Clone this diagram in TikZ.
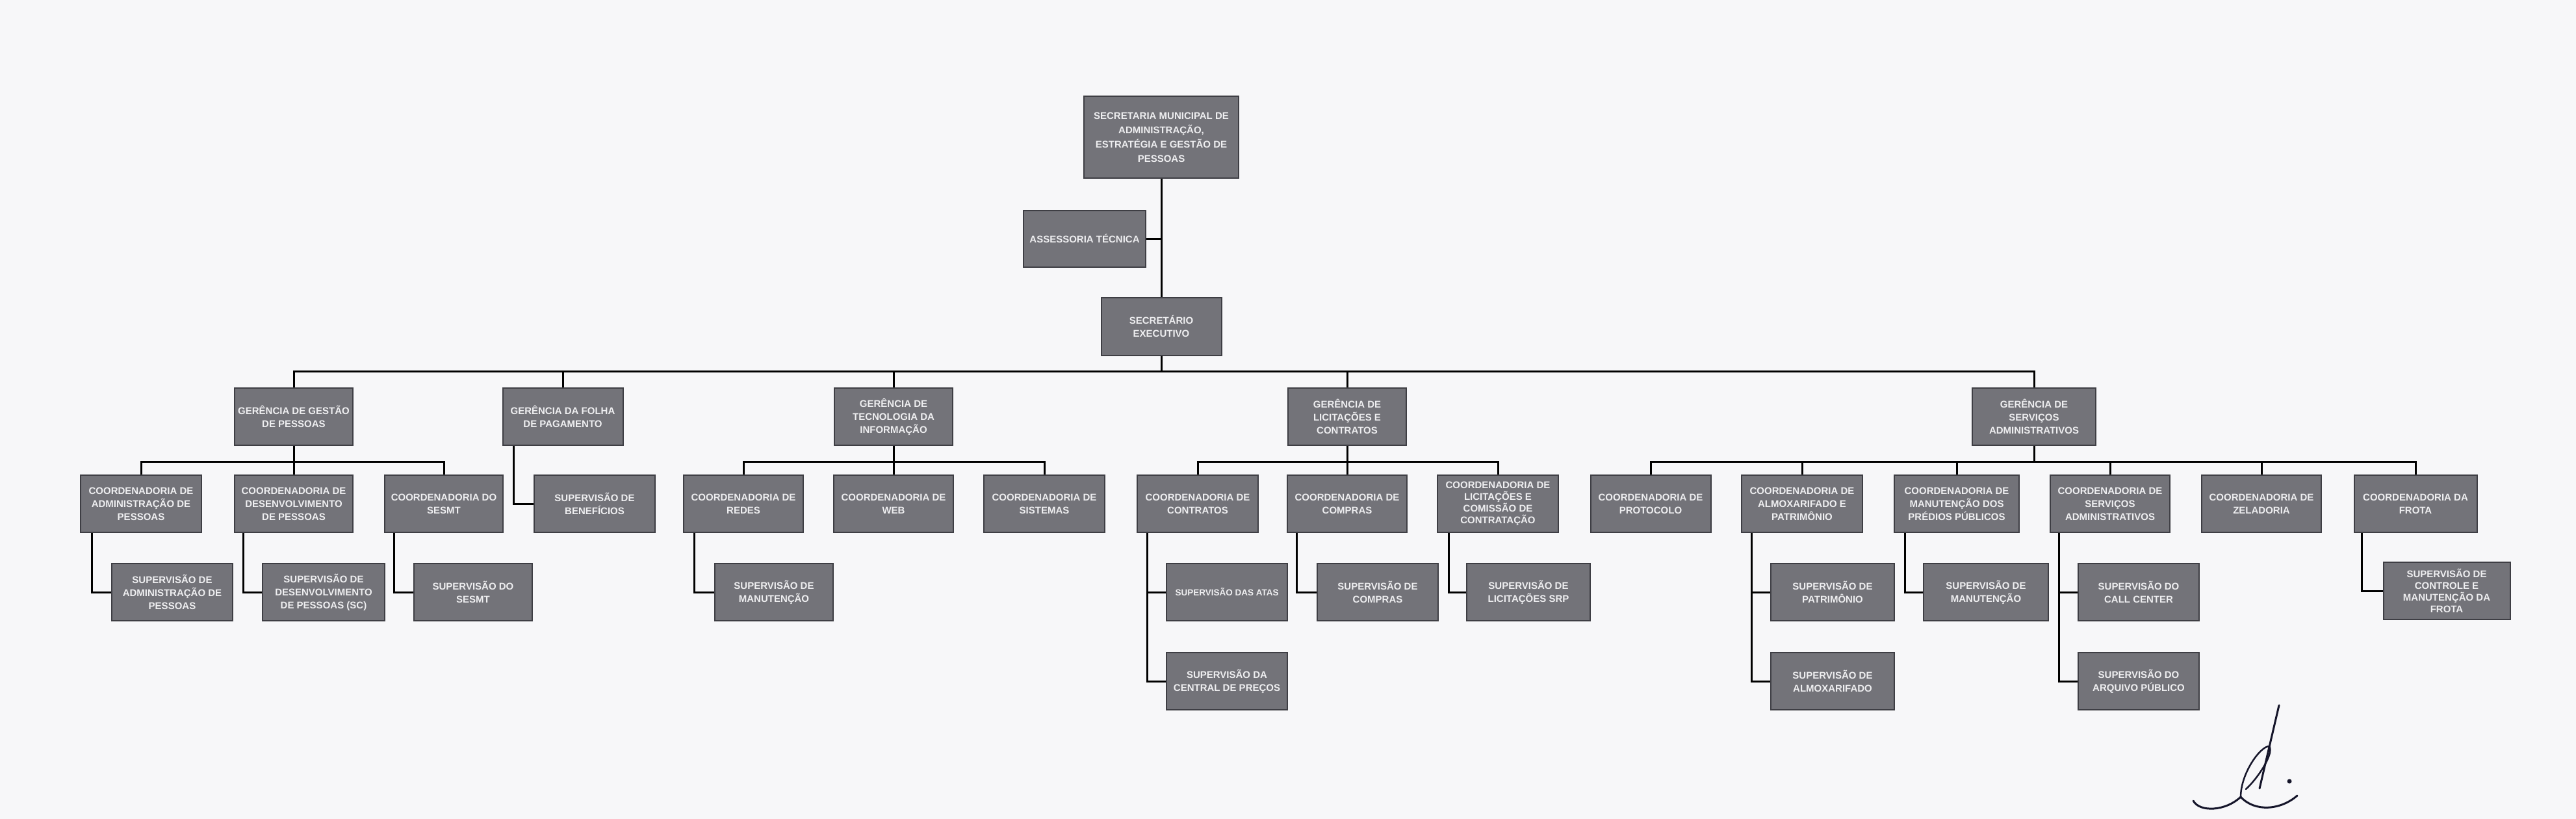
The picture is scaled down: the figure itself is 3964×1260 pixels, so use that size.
\documentclass[tikz,border=0pt]{standalone}
\usepackage{fontspec}
\setmainfont{Liberation Sans}
\definecolor{boxfill}{HTML}{737379}
\definecolor{boxline}{HTML}{3E3E44}
\definecolor{txt}{HTML}{EEEEF0}
\definecolor{paper}{HTML}{F7F7F9}
\definecolor{ink}{HTML}{15152A}
\tikzset{
  unitbox/.style={draw=boxline, line width=2pt, fill=boxfill, text=txt,
    font=\fontsize{15}{20}\selectfont\bfseries, align=center,
    minimum width=186pt, minimum height=88pt, inner sep=2pt},
  fourline/.style={font=\fontsize{15}{18}\selectfont\bfseries},
  conn/.style={draw=black, line width=3pt},
  sig/.style={draw=ink, line width=3pt, line cap=round, line join=round}
}
\begin{document}
\begin{tikzpicture}[x=1pt,y=-1pt]
\fill[paper] (0,0) rectangle (3964,1260);
\useasboundingbox (0,0) rectangle (3964,1260);

% level 0
\node[unitbox, minimum width=238pt, minimum height=125pt, font=\fontsize{15}{22}\selectfont\bfseries] (top) at (1787,211) {SECRETARIA MUNICIPAL DE\\ADMINISTRAÇÃO,\\ESTRATÉGIA E GESTÃO DE\\PESSOAS};
\node[unitbox, minimum width=188pt, minimum height=87pt] (ass) at (1669,367) {ASSESSORIA TÉCNICA};
\node[unitbox, minimum width=185pt, minimum height=89pt] (sec) at (1787,502) {SECRETÁRIO\\EXECUTIVO};

% level 1
\node[unitbox, minimum width=182pt] (G1) at (452,641) {GERÊNCIA DE GESTÃO\\DE PESSOAS};
\node[unitbox, minimum width=185pt] (G2) at (866,641) {GERÊNCIA DA FOLHA\\DE PAGAMENTO};
\node[unitbox, minimum width=182pt] (G3) at (1375,641) {GERÊNCIA DE\\TECNOLOGIA DA\\INFORMAÇÃO};
\node[unitbox, minimum width=182pt] (G4) at (2073,641) {GERÊNCIA DE\\LICITAÇÕES E\\CONTRATOS};
\node[unitbox, minimum width=190pt] (G5) at (3130,641) {GERÊNCIA DE\\SERVIÇOS\\ADMINISTRATIVOS};

% level 2
\node[unitbox] (C1a) at (217,775) {COORDENADORIA DE\\ADMINISTRAÇÃO DE\\PESSOAS};
\node[unitbox, minimum width=182pt] (C1b) at (452,775) {COORDENADORIA DE\\DESENVOLVIMENTO\\DE PESSOAS};
\node[unitbox, minimum width=182pt] (C1c) at (683,775) {COORDENADORIA DO\\SESMT};
\node[unitbox] (S2a) at (915,775) {SUPERVISÃO DE\\BENEFÍCIOS};
\node[unitbox, minimum width=184pt] (C3a) at (1144,775) {COORDENADORIA DE\\REDES};
\node[unitbox, minimum width=184pt] (C3b) at (1375,775) {COORDENADORIA DE\\WEB};
\node[unitbox] (C3c) at (1607,775) {COORDENADORIA DE\\SISTEMAS};
\node[unitbox] (C4a) at (1843,775) {COORDENADORIA DE\\CONTRATOS};
\node[unitbox, minimum width=184pt] (C4b) at (2073,775) {COORDENADORIA DE\\COMPRAS};
\node[unitbox, fourline] (C4c) at (2305,775) {COORDENADORIA DE\\LICITAÇÕES E\\COMISSÃO DE\\CONTRATAÇÃO};
\node[unitbox, minimum width=185pt] (C5a) at (2540,775) {COORDENADORIA DE\\PROTOCOLO};
\node[unitbox] (C5b) at (2773,775) {COORDENADORIA DE\\ALMOXARIFADO E\\PATRIMÔNIO};
\node[unitbox, minimum width=192pt] (C5c) at (3011,775) {COORDENADORIA DE\\MANUTENÇÃO DOS\\PRÉDIOS PÚBLICOS};
\node[unitbox, minimum width=184pt] (C5d) at (3247,775) {COORDENADORIA DE\\SERVIÇOS\\ADMINISTRATIVOS};
\node[unitbox, minimum width=184pt] (C5e) at (3480,775) {COORDENADORIA DE\\ZELADORIA};
\node[unitbox, minimum width=189pt] (C5f) at (3717,775) {COORDENADORIA DA\\FROTA};

% level 3 / 4
\node[unitbox] (S1a) at (265,911) {SUPERVISÃO DE\\ADMINISTRAÇÃO DE\\PESSOAS};
\node[unitbox, minimum width=188pt] (S1b) at (498,911) {SUPERVISÃO DE\\DESENVOLVIMENTO\\DE PESSOAS (SC)};
\node[unitbox, minimum width=182pt] (S1c) at (728,911) {SUPERVISÃO DO\\SESMT};
\node[unitbox, minimum width=182pt] (S3a) at (1191,911) {SUPERVISÃO DE\\MANUTENÇÃO};
\node[unitbox, font=\fontsize{13.5}{20}\selectfont\bfseries] (S4a) at (1888,911) {SUPERVISÃO DAS ATAS};
\node[unitbox] (S4b) at (1888,1048) {SUPERVISÃO DA\\CENTRAL DE PREÇOS};
\node[unitbox] (S4c) at (2120,911) {SUPERVISÃO DE\\COMPRAS};
\node[unitbox, minimum width=190pt] (S4d) at (2352,911) {SUPERVISÃO DE\\LICITAÇÕES SRP};
\node[unitbox, minimum width=190pt] (S5b1) at (2820,911) {SUPERVISÃO DE\\PATRIMÔNIO};
\node[unitbox, minimum width=190pt] (S5b2) at (2820,1048) {SUPERVISÃO DE\\ALMOXARIFADO};
\node[unitbox, minimum width=192pt] (S5c1) at (3056,911) {SUPERVISÃO DE\\MANUTENÇÃO};
\node[unitbox] (S5d1) at (3291,911) {SUPERVISÃO DO\\CALL CENTER};
\node[unitbox] (S5d2) at (3291,1048) {SUPERVISÃO DO\\ARQUIVO PÚBLICO};
\node[unitbox, minimum width=195pt, fourline] (S5f1) at (3765,909) {SUPERVISÃO DE\\CONTROLE E\\MANUTENÇÃO DA\\FROTA};

% connectors: top
\draw[conn] (top.south) -- (sec.north);
\draw[conn] (ass.east) -- (ass.east -| top.south);

% secretary bus
\coordinate (bus0) at (0,571);
\draw[conn] (sec.south) -- (sec.south |- bus0);
\draw[conn] (G1.north) -- (G1.north |- bus0) -- (G5.north |- bus0) -- (G5.north);
\foreach \n in {G2,G3,G4} \draw[conn] (\n.north |- bus0) -- (\n.north);

% gerencia buses
\coordinate (bus1) at (0,710);
\draw[conn] (G1.south) -- (G1.south |- bus1);
\draw[conn] (C1a.north) -- (C1a.north |- bus1) -- (C1c.north |- bus1) -- (C1c.north);
\draw[conn] (C1b.north |- bus1) -- (C1b.north);

\draw[conn] (G3.south) -- (G3.south |- bus1);
\draw[conn] (C3a.north) -- (C3a.north |- bus1) -- (C3c.north |- bus1) -- (C3c.north);
\draw[conn] (C3b.north |- bus1) -- (C3b.north);

\draw[conn] (G4.south) -- (G4.south |- bus1);
\draw[conn] (C4a.north) -- (C4a.north |- bus1) -- (C4c.north |- bus1) -- (C4c.north);
\draw[conn] (C4b.north |- bus1) -- (C4b.north);

\draw[conn] (G5.south) -- (G5.south |- bus1);
\draw[conn] (C5a.north) -- (C5a.north |- bus1) -- (C5f.north |- bus1) -- (C5f.north);
\foreach \n in {C5b,C5c,C5d,C5e} \draw[conn] (\n.north |- bus1) -- (\n.north);

% elbows
\coordinate (kG2) at ([xshift=18pt]G2.south west);
\draw[conn] (kG2) |- (S2a.west);
\coordinate (k1a) at ([xshift=18pt]C1a.south west);
\draw[conn] (k1a) |- (S1a.west);
\coordinate (k1b) at ([xshift=14pt]C1b.south west);
\draw[conn] (k1b) |- (S1b.west);
\coordinate (k1c) at ([xshift=15pt]C1c.south west);
\draw[conn] (k1c) |- (S1c.west);
\coordinate (k3a) at ([xshift=17pt]C3a.south west);
\draw[conn] (k3a) |- (S3a.west);
\coordinate (k4a) at ([xshift=16pt]C4a.south west);
\draw[conn] (k4a) |- (S4b.west);
\draw[conn] (k4a |- S4a.west) -- (S4a.west);
\coordinate (k4b) at ([xshift=15pt]C4b.south west);
\draw[conn] (k4b) |- (S4c.west);
\coordinate (k4c) at ([xshift=18pt]C4c.south west);
\draw[conn] (k4c) |- (S4d.west);
\coordinate (k5b) at ([xshift=16pt]C5b.south west);
\draw[conn] (k5b) |- (S5b2.west);
\draw[conn] (k5b |- S5b1.west) -- (S5b1.west);
\coordinate (k5c) at ([xshift=17pt]C5c.south west);
\draw[conn] (k5c) |- (S5c1.west);
\coordinate (k5d) at ([xshift=14pt]C5d.south west);
\draw[conn] (k5d) |- (S5d2.west);
\draw[conn] (k5d |- S5d1.west) -- (S5d1.west);
\coordinate (k5f) at ([xshift=13pt]C5f.south west);
\draw[conn] (k5f) |- (S5f1.west);

% signature
\draw[sig] (3375,1232) .. controls (3385,1250) and (3425,1248) .. (3448,1226)
  .. controls (3470,1250) and (3510,1246) .. (3535,1224);
\draw[sig, line width=2.5pt] (3448,1226) .. controls (3448,1190) and (3478,1148) .. (3492,1148)
  .. controls (3500,1160) and (3472,1200) .. (3456,1214);
\draw[sig] (3507,1085) -- (3477,1213);
\fill[ink] (3523,1202) circle (3.5);
\end{tikzpicture}
\end{document}
